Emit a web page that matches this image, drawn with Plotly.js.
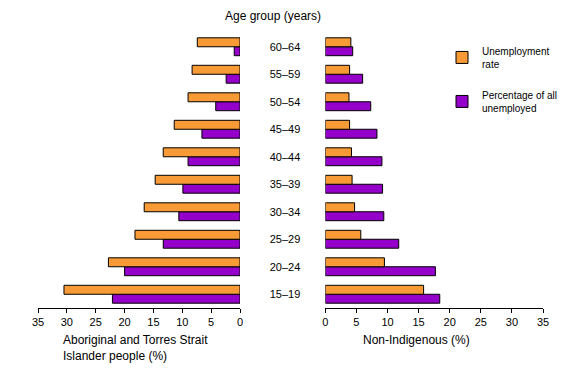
<!DOCTYPE html>
<html>
<head>
<meta charset="utf-8">
<script src="https://cdn.plot.ly/plotly-3.0.1.min.js"></script>
<style>html,body{margin:0;padding:0;background:#fff;}#chart{width:584px;height:381px;}</style>
</head>
<body>
<div id="chart"></div>
<script>
const ageGroups = ['15–19','20–24','25–29','30–34','35–39','40–44','45–49','50–54','55–59','60–64'];
const indigenousRate = [30.5, 22.8, 18.2, 16.6, 14.7, 13.3, 11.4, 9.0, 8.3, 7.4];
const indigenousShare = [22.1, 20.0, 13.3, 10.6, 9.9, 9.0, 6.6, 4.2, 2.4, 1.0];
const nonIndigenousRate = [15.8, 9.5, 5.7, 4.7, 4.3, 4.2, 3.9, 3.8, 3.9, 4.1];
const nonIndigenousShare = [18.4, 17.7, 11.8, 9.4, 9.2, 9.1, 8.3, 7.3, 6.0, 4.4];
const seriesNames = ['Unemployment<br>rate', 'Percentage of all<br>unemployed'];

const ORANGE = '#F89A35', PURPLE = '#9400C9';
const FONT = 'Liberation Sans, Arial, sans-serif';
const mk = (c) => ({color: c, line: {color: '#000', width: 1}});

const traces = [
  {type:'bar', orientation:'h', y: ageGroups, x: indigenousShare, name: seriesNames[1], marker: mk(PURPLE), xaxis:'x', yaxis:'y', showlegend:false, legendgroup:'b', legendrank:2},
  {type:'bar', orientation:'h', y: ageGroups, x: indigenousRate, name: seriesNames[0], marker: mk(ORANGE), xaxis:'x', yaxis:'y', showlegend:false, legendgroup:'a', legendrank:1},
  {type:'bar', orientation:'h', y: ageGroups, x: nonIndigenousShare, name: seriesNames[1], marker: mk(PURPLE), xaxis:'x2', yaxis:'y2', legendgroup:'b', legendrank:2},
  {type:'bar', orientation:'h', y: ageGroups, x: nonIndigenousRate, name: seriesNames[0], marker: mk(ORANGE), xaxis:'x2', yaxis:'y2', legendgroup:'a', legendrank:1}
];

const xCommon = {
  showline:true, linecolor:'#000', linewidth:1, ticks:'outside', ticklen:4, tickcolor:'#000',
  showgrid:false, zeroline:false, dtick:5, tickfont:{size:11, color:'#000', family:FONT}
};

const layout = {
  width:584, height:381,
  margin:{l:38, r:41, t:32.5, b:72.5},
  paper_bgcolor:'#fff', plot_bgcolor:'#fff',
  font:{family:FONT, color:'#000'},
  barmode:'group', bargap:0.35, bargroupgap:0,
  xaxis: Object.assign({}, xCommon, {domain:[0, 0.4], range:[35, 0]}),
  xaxis2: Object.assign({}, xCommon, {domain:[0.569, 1], range:[0, 35]}),
  yaxis: {type:'category', categoryorder:'array', categoryarray: ageGroups, showticklabels:false, showline:false, ticks:'', showgrid:false, anchor:'x'},
  yaxis2: {type:'category', categoryorder:'array', categoryarray: ageGroups, showline:false, ticks:'', showgrid:false, anchor:'x2',
           ticklabelstandoff:24, tickfont:{size:11, color:'#000', family:FONT}},
  showlegend:true,
  legend:{x:0.8, y:0.982, xanchor:'left', yanchor:'top', traceorder:'grouped', font:{size:10, family:FONT, color:'#000'},
          bgcolor:'rgba(0,0,0,0)', tracegroupgap:15, itemwidth:30},
  annotations:[
    {xref:'paper', yref:'paper', x:0.465, y:1.063, text:'Age group (years)', showarrow:false, xanchor:'center', yanchor:'middle', font:{size:12}},
    {xref:'paper', yref:'paper', x:0.0455, y:-0.085, text:'Aboriginal and Torres Strait<br>Islander people (%)', showarrow:false, xanchor:'left', yanchor:'top', align:'left', font:{size:12}},
    {xref:'paper', yref:'paper', x:0.75, y:-0.083, text:'Non-Indigenous (%)', showarrow:false, xanchor:'center', yanchor:'top', font:{size:12}}
  ]
};

Plotly.newPlot('chart', traces, layout, {displayModeBar:false, staticPlot:true});
</script>
</body>
</html>
